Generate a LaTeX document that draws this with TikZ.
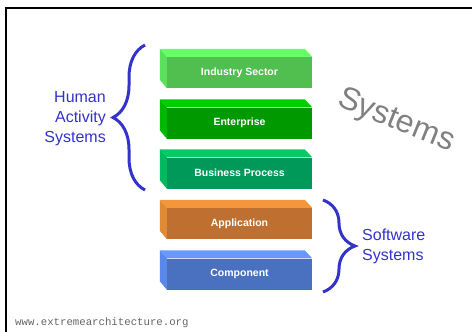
\documentclass[tikz,border=0pt]{standalone}
\usepackage{fontspec}
\setmainfont{Liberation Sans}
\newfontfamily\urlfont{Liberation Mono}
\usetikzlibrary{decorations.pathreplacing}

\definecolor{indfront}{HTML}{50BF50}
\definecolor{indtop}{HTML}{66FF66}
\definecolor{indside}{HTML}{5CE05C}
\definecolor{entfront}{HTML}{009900}
\definecolor{enttop}{HTML}{00CC00}
\definecolor{entside}{HTML}{00B800}
\definecolor{busfront}{HTML}{00995A}
\definecolor{bustop}{HTML}{00CC66}
\definecolor{busside}{HTML}{00B860}
\definecolor{appfront}{HTML}{BF7030}
\definecolor{apptop}{HTML}{F3963C}
\definecolor{appside}{HTML}{E08A36}
\definecolor{cmpfront}{HTML}{4A70C0}
\definecolor{cmptop}{HTML}{6699FF}
\definecolor{cmpside}{HTML}{5A88E8}
\definecolor{braceblue}{HTML}{3333CC}

\tikzset{
  layer/.style={rectangle, minimum width=145pt, minimum height=31pt,
    inner sep=0pt, text=white, font=\fontsize{10.5}{12}\selectfont\bfseries},
  groupbrace/.style={decorate, decoration={brace, amplitude=32pt},
    line width=3pt, draw=braceblue},
  grouplabel/.style={text=braceblue, font=\fontsize{16}{20}\selectfont, inner sep=0pt}
}

\begin{document}
\begin{tikzpicture}[x=1pt, y=-1pt]
    \useasboundingbox (0,0) rectangle (472,332);

    % Draw frame
    \draw[line width=2pt] (5.5,332) -- (5.5,7.5) -- (472,7.5);

    % Draw the layer boxes
    \node[layer, fill=indfront] (ind) at (239.5,72.5) {Industry Sector};
    \fill[indtop] (ind.north west) -- ++(-7,-8) -- ++(145,0) -- (ind.north east) -- cycle;
    \fill[indside] (ind.north west) -- ++(-7,-8) -- ++(0,31) -- (ind.south west) -- cycle;

    \node[layer, fill=entfront] (ent) at (239.5,123) {Enterprise};
    \fill[enttop] (ent.north west) -- ++(-7,-8) -- ++(145,0) -- (ent.north east) -- cycle;
    \fill[entside] (ent.north west) -- ++(-7,-8) -- ++(0,31) -- (ent.south west) -- cycle;

    \node[layer, fill=busfront] (bus) at (239.5,173) {Business Process};
    \fill[bustop] (bus.north west) -- ++(-7,-8) -- ++(145,0) -- (bus.north east) -- cycle;
    \fill[busside] (bus.north west) -- ++(-7,-8) -- ++(0,31) -- (bus.south west) -- cycle;

    \node[layer, fill=appfront] (app) at (239.5,223.5) {Application};
    \fill[apptop] (app.north west) -- ++(-7,-8) -- ++(145,0) -- (app.north east) -- cycle;
    \fill[appside] (app.north west) -- ++(-7,-8) -- ++(0,31) -- (app.south west) -- cycle;

    \node[layer, fill=cmpfront] (cmp) at (239.5,274) {Component};
    \fill[cmptop] (cmp.north west) -- ++(-7,-8) -- ++(145,0) -- (cmp.north east) -- cycle;
    \fill[cmpside] (cmp.north west) -- ++(-7,-8) -- ++(0,31) -- (cmp.south west) -- cycle;

    % Draw braces and their labels
    \coordinate (humtop) at (145,45);
    \coordinate (humbot) at (145,190);
    \draw[groupbrace] (humbot) -- (humtop);
    \node[grouplabel, align=right, anchor=east] (hum) at (106,119) {Human\\Activity\\Systems};

    \coordinate (softop) at (323,200);
    \coordinate (sofbot) at (323,292);
    \draw[groupbrace] (softop) -- (sofbot);
    \node[grouplabel, align=left, anchor=west] (sof) at (362,246) {Software\\Systems};

    % Draw title and url
    \node[text=black!50, rotate=-22, font=\fontsize{32}{36}\selectfont] (sys) at (396,121) {Systems};
    \node[text=black!60, anchor=west, inner sep=0pt, font=\urlfont\fontsize{10.7}{12}\selectfont] (url) at (15,323) {www.extremearchitecture.org};

\end{tikzpicture}
\end{document}
